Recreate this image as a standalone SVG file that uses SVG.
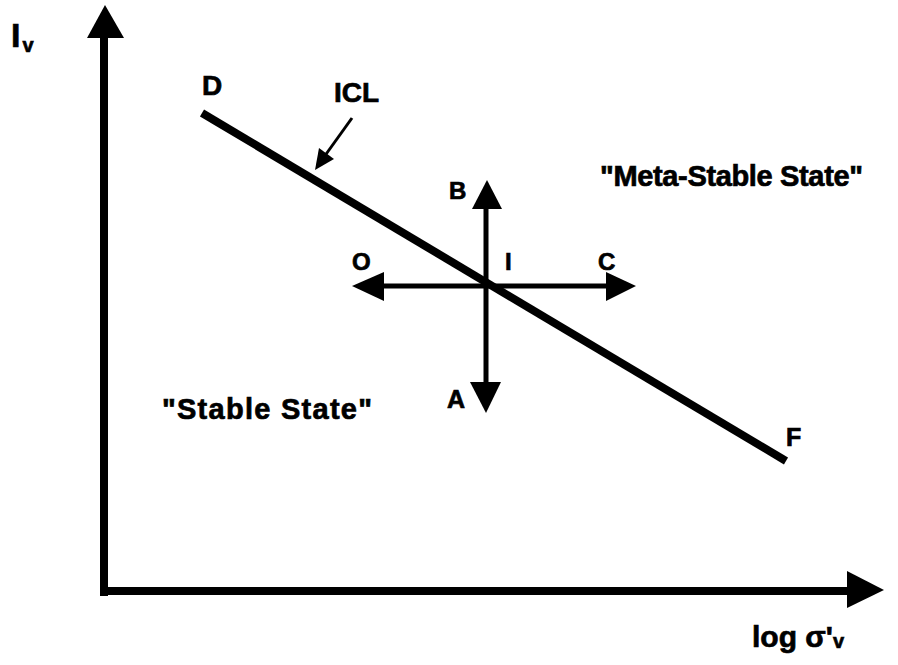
<svg xmlns="http://www.w3.org/2000/svg" width="898" height="665" viewBox="0 0 898 665">
<style>
.t{font-family:"Liberation Sans",Arial,sans-serif;font-weight:bold;fill:#000;stroke:#000;stroke-width:0.7}
.ax{stroke:#000;stroke-width:8;fill:none}
.ar{stroke:#000;stroke-width:5;fill:none}
.hd{fill:#000;stroke:none}
</style>
<rect width="898" height="665" fill="#fff"/>
<g id="axes">
<line class="ax" x1="104" y1="596" x2="104" y2="34"/>
<polygon class="hd" points="105,5 124,38 87,38"/>
<line class="ax" x1="100" y1="591" x2="850" y2="591"/>
<polygon class="hd" points="884,590 847,571 847,608"/>
</g>
<g id="connectors">
<line stroke="#000" stroke-width="8" stroke-linecap="butt" x1="202" y1="113" x2="786" y2="461"/>
<line class="ar" x1="486" y1="205" x2="486" y2="385"/>
<polygon class="hd" points="487,180 502,209 472,209"/>
<polygon class="hd" points="486,413 501,382 470,382"/>
<line class="ar" x1="380" y1="286" x2="610" y2="286"/>
<polygon class="hd" points="352,286 384,272 384,301"/>
<polygon class="hd" points="636,286 606,272 606,301"/>
<line stroke="#000" stroke-width="3" x1="352" y1="118" x2="324" y2="157"/>
<polygon class="hd" points="315,170 319,148 334,159"/>
</g>
<g id="labels">
<text class="t" x="11" y="47" font-size="34">I<tspan font-size="20" dx="2" dy="5">v</tspan></text>
<text class="t" x="752" y="647" font-size="30">log σ'<tspan font-size="20" dy="1">v</tspan></text>
<text class="t" x="202" y="95" font-size="28">D</text>
<text class="t" x="334" y="102" font-size="28">ICL</text>
<text class="t" x="449" y="199" font-size="24">B</text>
<text class="t" x="352" y="270" font-size="24">O</text>
<text class="t" x="505" y="270" font-size="24">I</text>
<text class="t" x="598" y="270" font-size="24">C</text>
<text class="t" x="447" y="408" font-size="25">A</text>
<text class="t" x="786" y="446" font-size="25">F</text>
<text class="t" x="600" y="186" font-size="29" textLength="263">"Meta-Stable State"</text>
<text class="t" x="162" y="419" font-size="29" textLength="210">"Stable State"</text>
</g>
</svg>
